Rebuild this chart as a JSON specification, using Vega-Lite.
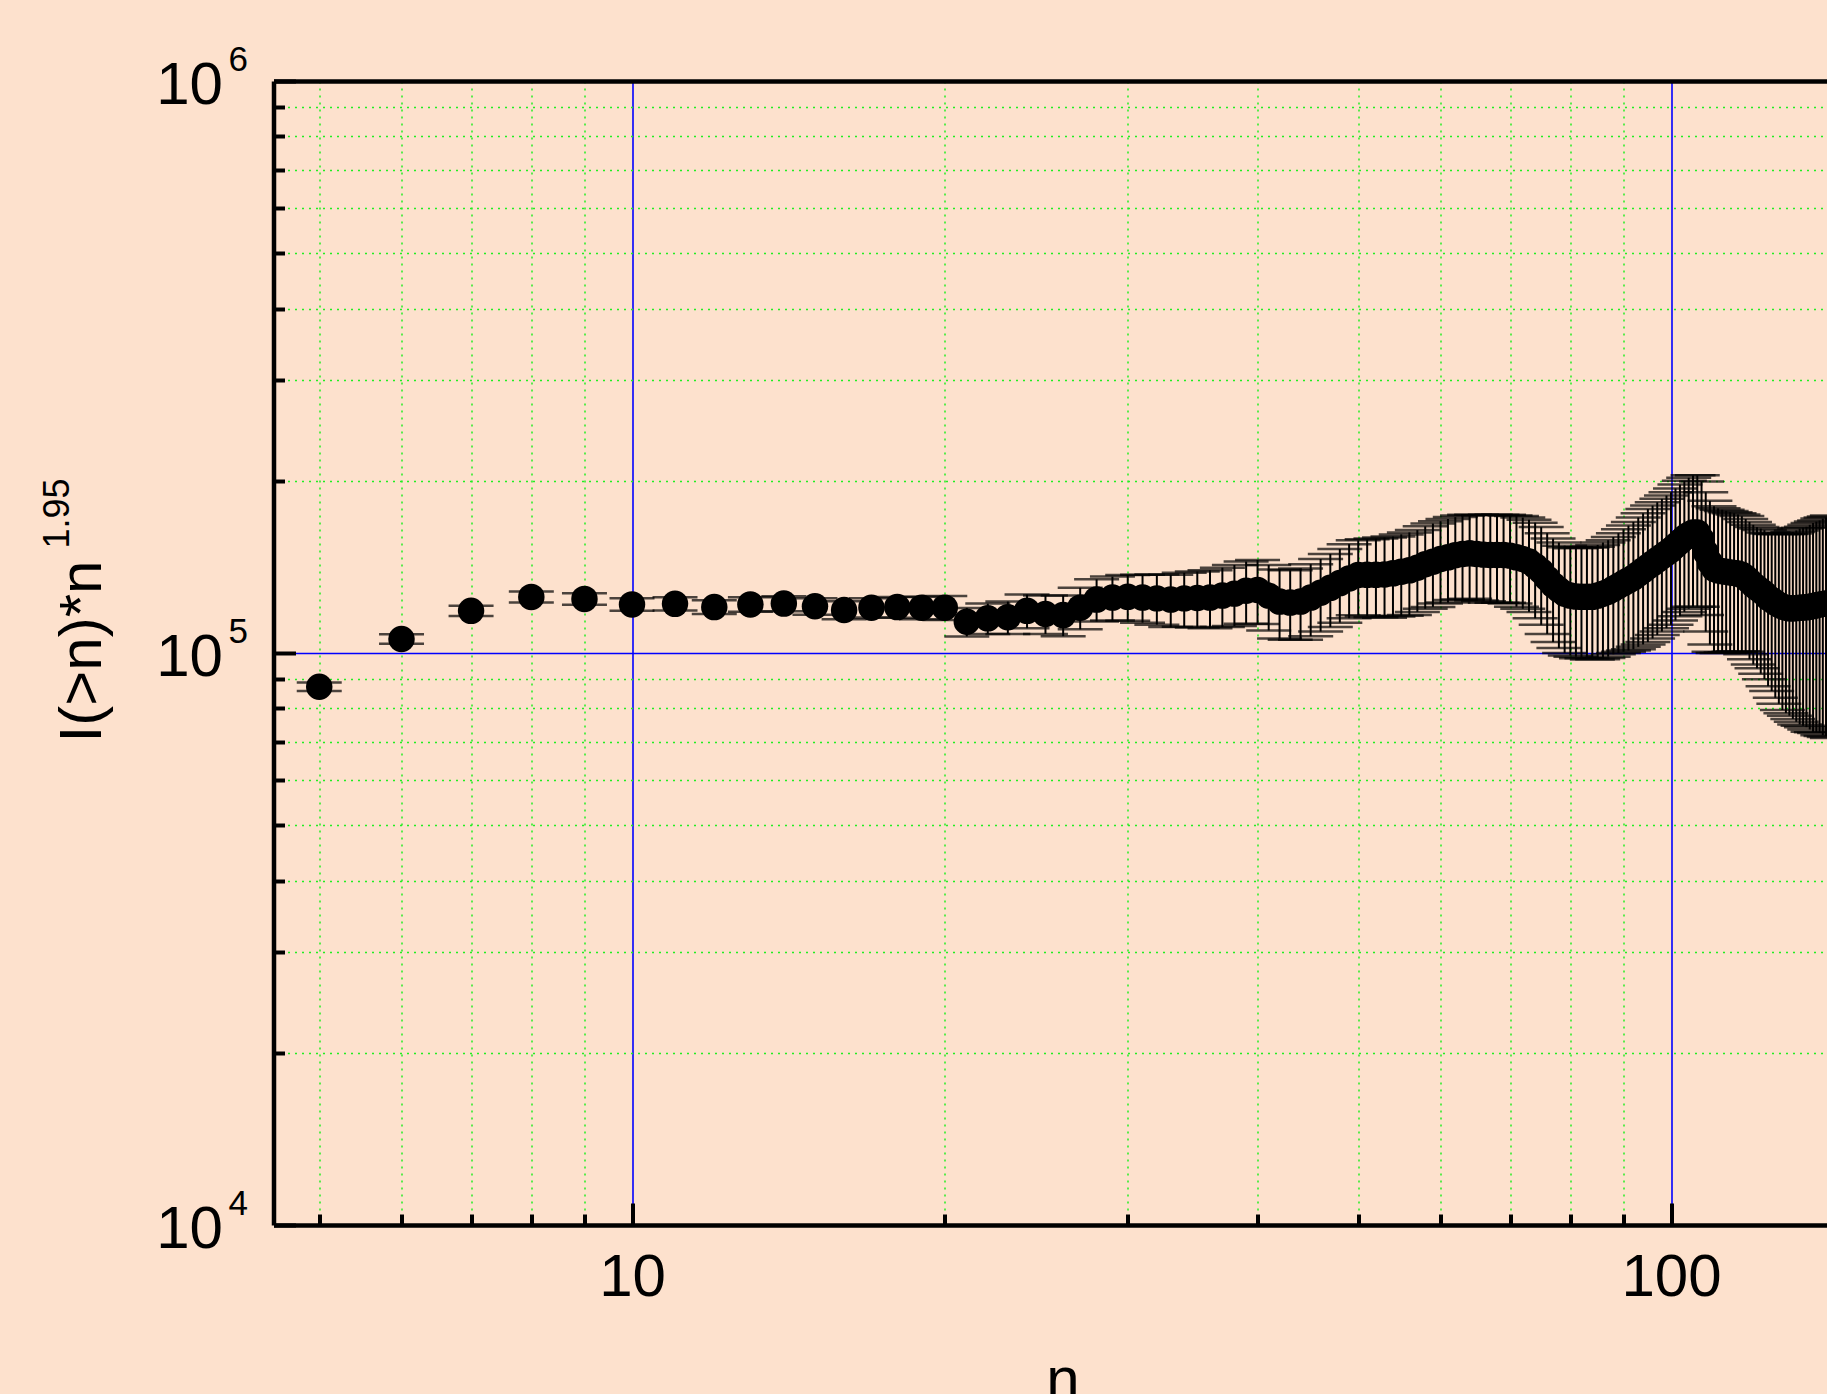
{
  "$schema": "https://vega.github.io/schema/vega-lite/v6.json",
  "width": 1553.5,
  "height": 1144,
  "autosize": {"type": "none"},
  "padding": {"left": 273.5, "top": 81, "right": 0, "bottom": 169},
  "background": "#FDE1CD",
  "config": {"view": {"stroke": null}, "font": "Liberation Sans"},
  "data": {"values": [
    {"n":5,"v":87300,"e":1500},{"n":6,"v":105800,"e":2000},{"n":7,"v":118500,"e":2400},{"n":8,"v":125300,"e":2800},{"n":9,"v":124300,"e":2900},
    {"n":10,"v":121600,"e":3100},{"n":11,"v":121900,"e":3200},{"n":12,"v":120300,"e":3300},{"n":13,"v":121600,"e":3500},{"n":14,"v":122000,"e":3700},
    {"n":15,"v":120700,"e":4000},{"n":16,"v":118900,"e":4300},{"n":17,"v":120000,"e":4600},{"n":18,"v":120300,"e":5000},{"n":19,"v":120000,"e":5400},
    {"n":20,"v":120000,"e":5800},{"n":21,"v":113400,"e":6500},{"n":22,"v":115000,"e":7000},{"n":23,"v":115500,"e":7500},{"n":24,"v":118500,"e":8000},
    {"n":25,"v":117000,"e":9000},{"n":26,"v":116500,"e":9500},{"n":27,"v":120000,"e":10000},{"n":28,"v":124000,"e":10500},{"n":29,"v":125000,"e":11000},
    {"n":30,"v":125400,"e":11500},{"n":31,"v":125000,"e":12000},{"n":32,"v":124600,"e":12500},{"n":33,"v":124000,"e":13000},{"n":34,"v":124600,"e":13500},
    {"n":35,"v":124800,"e":14000},{"n":36,"v":125000,"e":14500},{"n":37,"v":126000,"e":15000},{"n":38,"v":127000,"e":15500},{"n":39,"v":128500,"e":16000},
    {"n":40,"v":128900,"e":16500},{"n":41,"v":126000,"e":16500},{"n":42,"v":123000,"e":17000},{"n":43,"v":122500,"e":17000},{"n":44,"v":123000,"e":17500},
    {"n":45,"v":125000,"e":18000},{"n":46,"v":127500,"e":18500},{"n":47,"v":130000,"e":19000},{"n":48,"v":132500,"e":19500},{"n":49,"v":135000,"e":20000},
    {"n":50,"v":136900,"e":20500},{"n":51,"v":137000,"e":21000},{"n":52,"v":137000,"e":21500},{"n":53,"v":137200,"e":22000},{"n":54,"v":137800,"e":22000},
    {"n":55,"v":138700,"e":22500},{"n":56,"v":139500,"e":23000},{"n":57,"v":141000,"e":23000},{"n":58,"v":143000,"e":23500},{"n":59,"v":144400,"e":24000},
    {"n":60,"v":146000,"e":24000},{"n":61,"v":147000,"e":24500},{"n":62,"v":148300,"e":24500},{"n":63,"v":149000,"e":25000},{"n":64,"v":149400,"e":25000},
    {"n":65,"v":149000,"e":25500},{"n":66,"v":148600,"e":25500},{"n":67,"v":148400,"e":26000},{"n":68,"v":148400,"e":26000},{"n":69,"v":148400,"e":26000},
    {"n":70,"v":148000,"e":26000},{"n":71,"v":147000,"e":26500},{"n":72,"v":146000,"e":26500},{"n":73,"v":144500,"e":26500},{"n":74,"v":142000,"e":27000},
    {"n":75,"v":139000,"e":27000},{"n":76,"v":135000,"e":27000},{"n":77,"v":131500,"e":27000},{"n":78,"v":129000,"e":27000},{"n":79,"v":127000,"e":27000},
    {"n":80,"v":126000,"e":27000},{"n":81,"v":125500,"e":27000},{"n":82,"v":125400,"e":27500},{"n":83,"v":125400,"e":27500},{"n":84,"v":125400,"e":28000},
    {"n":85,"v":126000,"e":28500},{"n":86,"v":127000,"e":29000},{"n":87,"v":128000,"e":29500},{"n":88,"v":129500,"e":30000},{"n":89,"v":131000,"e":31000},
    {"n":90,"v":132500,"e":32000},{"n":91,"v":134000,"e":33000},{"n":92,"v":135500,"e":34000},{"n":93,"v":137500,"e":35000},{"n":94,"v":139500,"e":36000},
    {"n":95,"v":141500,"e":37000},{"n":96,"v":143500,"e":37500},{"n":97,"v":145500,"e":38000},{"n":98,"v":147500,"e":38500},{"n":99,"v":149500,"e":39000},
    {"n":100,"v":151500,"e":39500},{"n":101,"v":154000,"e":40000},{"n":102,"v":156500,"e":40500},{"n":103,"v":159000,"e":41000},{"n":104,"v":161000,"e":41500},
    {"n":105,"v":162500,"e":42000},{"n":106,"v":162500,"e":42000},{"n":107,"v":158000,"e":41500},{"n":108,"v":150000,"e":41000},{"n":109,"v":144000,"e":40500},
    {"n":110,"v":140500,"e":40000},{"n":111,"v":139500,"e":39500},{"n":112,"v":139000,"e":39000},{"n":113,"v":138700,"e":38500},{"n":114,"v":138300,"e":38000},
    {"n":115,"v":138000,"e":37500},{"n":116,"v":137700,"e":37000},{"n":117,"v":137000,"e":36500},{"n":118,"v":135500,"e":36000},{"n":119,"v":133500,"e":36000},
    {"n":120,"v":131500,"e":36000},{"n":121,"v":130000,"e":36000},{"n":122,"v":128500,"e":36500},{"n":123,"v":127000,"e":37000},{"n":124,"v":125000,"e":37500},
    {"n":125,"v":123800,"e":38000},{"n":126,"v":122500,"e":39000},{"n":127,"v":121500,"e":40000},{"n":128,"v":120500,"e":41000},{"n":129,"v":120000,"e":41500},
    {"n":130,"v":119700,"e":42000},{"n":131,"v":119700,"e":43000},{"n":132,"v":119800,"e":44000},{"n":133,"v":120000,"e":45000},{"n":134,"v":120100,"e":45500},
    {"n":135,"v":120200,"e":46000},{"n":136,"v":120500,"e":47000},{"n":137,"v":120800,"e":48000},{"n":138,"v":121200,"e":48500},{"n":139,"v":121500,"e":49000},
    {"n":140,"v":121800,"e":50000},{"n":141,"v":122100,"e":50500},{"n":142,"v":122300,"e":51000},{"n":143,"v":122500,"e":51500}
  ]},
  "layer": [
    {
      "mark": {"type": "errorbar", "color": "black", "ticks": {"size": 45, "thickness": 2.5, "color": "black"}, "rule": {"strokeWidth": 2, "color": "black"}},
      "encoding": {
        "x": {"field": "n", "type": "quantitative",
          "scale": {"type": "log", "domain": [4.518, 141.3], "nice": false},
          "axis": {
            "orient": "bottom",
            "values": [5,6,7,8,9,10,20,30,40,50,60,70,80,90,100],
            "grid": true,
            "gridColor": {"condition": {"test": "datum.value == 10 || datum.value == 100", "value": "#0000FF"}, "value": "#22EE22"},
            "gridDash": {"condition": {"test": "datum.value == 10 || datum.value == 100", "value": []}, "value": [2, 5]},
            "gridWidth": {"condition": {"test": "datum.value == 10 || datum.value == 100", "value": 1.6}, "value": 1.5},
            "gridOpacity": 1,
            "ticks": true,
            "tickColor": "black",
            "tickWidth": 4,
            "tickSize": {"condition": {"test": "datum.value == 10 || datum.value == 100", "value": -22}, "value": -11},
            "domain": true, "domainColor": "black", "domainWidth": 4.5,
            "labelExpr": "datum.value == 10 || datum.value == 100 ? format(datum.value, 'd') : ''",
            "labelFont": "Liberation Sans", "labelFontSize": 60, "labelColor": "black",
            "labelBaseline": "alphabetic", "labelPadding": 92,
            "labelOverlap": false, "labelFlush": false, "labelBound": false,
            "title": "n", "titleFont": "Liberation Sans", "titleFontSize": 60, "titleFontWeight": "normal", "titleColor": "black",
            "titleBaseline": "alphabetic", "titleAlign": "center", "titleX": 789, "titleY": 173
          }
        },
        "y": {"field": "v", "type": "quantitative",
          "scale": {"type": "log", "domain": [10000, 1000000], "nice": false},
          "axis": {
            "orient": "left",
            "values": [10000,20000,30000,40000,50000,60000,70000,80000,90000,100000,200000,300000,400000,500000,600000,700000,800000,900000,1000000],
            "grid": true,
            "gridColor": {"condition": {"test": "datum.value == 10000 || datum.value == 100000 || datum.value == 1000000", "value": "#0000FF"}, "value": "#22EE22"},
            "gridDash": {"condition": {"test": "datum.value == 10000 || datum.value == 100000 || datum.value == 1000000", "value": []}, "value": [2, 5]},
            "gridWidth": {"condition": {"test": "datum.value == 10000 || datum.value == 100000 || datum.value == 1000000", "value": 1.6}, "value": 1.5},
            "gridOpacity": 1,
            "ticks": true,
            "tickColor": "black",
            "tickWidth": 4,
            "tickSize": {"condition": {"test": "datum.value == 10000 || datum.value == 100000 || datum.value == 1000000", "value": -22}, "value": -11},
            "domain": true, "domainColor": "black", "domainWidth": 4.5,
            "labelExpr": "datum.value == 10000 || datum.value == 100000 || datum.value == 1000000 ? '10' : ''",
            "labelFont": "Liberation Sans", "labelFontSize": 60, "labelColor": "black",
            "labelAlign": "right", "labelBaseline": "alphabetic", "labelOffset": 22, "labelPadding": 73,
            "labelOverlap": false, "labelFlush": false, "labelBound": false,
            "title": "I(>n)*n", "titleFont": "Liberation Sans", "titleFontSize": 60, "titleFontWeight": "normal", "titleColor": "black",
            "titleAngle": -90, "titleBaseline": "alphabetic", "titleAlign": "center", "titleX": -173.5, "titleY": 570
          }
        },
        "yError": {"field": "e"}
      }
    },
    {
      "mark": {"type": "point", "filled": true, "size": 700, "color": "black", "opacity": 1},
      "encoding": {
        "x": {"field": "n", "type": "quantitative",
          "axis": {"orient": "top", "grid": false, "ticks": false, "labels": false, "domain": true, "domainColor": "black", "domainWidth": 4.5, "title": null}
        },
        "y": {"field": "v", "type": "quantitative",
          "axis": {
            "orient": "left",
            "values": [10000, 100000, 1000000],
            "grid": false, "ticks": false, "domain": false,
            "labelExpr": "datum.value == 1000000 ? '6' : datum.value == 100000 ? '5' : '4'",
            "labelFont": "Liberation Sans", "labelFontSize": 35, "labelColor": "black",
            "labelAlign": "right", "labelBaseline": "alphabetic", "labelOffset": -11, "labelPadding": 26,
            "labelOverlap": false, "labelFlush": false, "labelBound": false,
            "title": "1.95", "titleFont": "Liberation Sans", "titleFontSize": 36, "titleFontWeight": "normal", "titleColor": "black",
            "titleAngle": -90, "titleBaseline": "alphabetic", "titleAlign": "center", "titleX": -205.5, "titleY": 432
          }
        }
      }
    }
  ],
  "resolve": {"axis": {"x": "independent", "y": "independent"}}
}
